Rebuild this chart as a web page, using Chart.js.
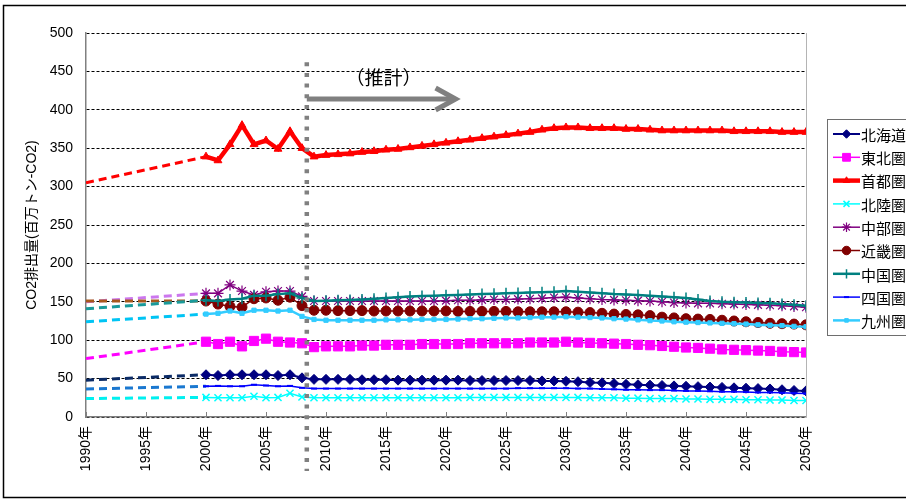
<!DOCTYPE html>
<html>
<head>
<meta charset="utf-8">
<script src="https://cdn.jsdelivr.net/npm/chart.js@4"></script>
<style>
  html, body { margin: 0; padding: 0; background: #fff; }
  #wrap { width: 906px; height: 501px; }
</style>
</head>
<body>
<div id="wrap"><canvas id="chart" width="906" height="501"></canvas></div>
<script>
const years = [1990,
  2000, 2001, 2002, 2003, 2004, 2005, 2006, 2007, 2008, 2009,
  2010, 2011, 2012, 2013, 2014, 2015, 2016, 2017, 2018, 2019,
  2020, 2021, 2022, 2023, 2024, 2025, 2026, 2027, 2028, 2029,
  2030, 2031, 2032, 2033, 2034, 2035, 2036, 2037, 2038, 2039,
  2040, 2041, 2042, 2043, 2044, 2045, 2046, 2047, 2048, 2049,
  2050];

const names = ['北海道', '東北圏', '首都圏', '北陸圏', '中部圏', '近畿圏', '中国圏', '四国圏', '九州圏'];

const hokkaido = [48,
  55, 54, 55, 55, 55, 55, 54, 55, 51, 49,
  49, 49, 49, 48.5, 48.5, 48.5, 48, 48, 48, 48,
  48, 48, 47.5, 47.5, 47.5, 47.5, 47.5, 47.5, 47, 47,
  46.5, 46, 45, 44.5, 43.5, 42.5, 42, 41.5, 41, 40.5,
  40, 39.5, 39, 38.5, 38, 37.5, 37, 36.5, 35.5, 34.5,
  34];
const tohoku = [76,
  98, 95, 98, 92, 99, 102, 98, 97, 96, 91,
  92, 92, 92, 93, 93, 94, 94, 94, 95, 95,
  95, 95, 96, 96, 96, 96, 96, 97, 97, 97,
  98, 97, 96.5, 96, 95.5, 95, 94, 93.5, 92.5, 91.5,
  90.5, 90, 89, 88, 87.5, 87, 86.5, 86, 85, 84.5,
  84];
const shuto = [305,
  339, 334, 355, 380, 355, 360, 349, 372, 350, 339,
  341, 342, 343, 345, 346, 348, 349, 351, 353, 355,
  357, 359, 361, 363, 365, 367, 369, 371, 374, 376,
  377, 377, 376, 376, 376, 375, 375, 374, 373, 373,
  373, 373, 373, 373, 372, 372, 372, 372, 371, 371,
  371];
const hokuriku = [24,
  25.5, 25, 25, 25, 27, 25, 25.5, 31, 26, 25,
  25, 25, 25, 25, 25, 25, 25, 25, 25, 25,
  25, 25, 25.5, 25.5, 25.5, 25.5, 25.5, 25.5, 25.5, 25.5,
  25.5, 25.5, 25, 25, 25, 24.5, 24.5, 24, 24, 24,
  23.5, 23.5, 23, 23, 23, 22.5, 22.5, 22, 22, 21.5,
  21.5];
const chubu = [150,
  161, 161, 172, 164, 159, 163, 164, 164, 157, 151,
  151, 151, 151, 151, 151, 151, 151, 151, 151, 151,
  151.5, 152, 152, 152.5, 153, 153, 153.5, 154, 154.5, 155.5,
  156, 155, 154, 153, 152.5, 152, 151.5, 151, 150, 149,
  148.5, 148, 148, 147.5, 147, 146.5, 146, 145.5, 145, 144,
  143];
const kinki = [151,
  151, 147, 144, 143, 154, 155, 152, 156, 145, 139,
  139, 138.5, 138.5, 138.5, 138, 138, 138, 138, 138, 138,
  138, 137.5, 137.5, 137.5, 137.5, 137.5, 137, 137, 137, 137,
  137, 136.5, 136, 135, 134, 133.5, 133, 132, 130, 129,
  128, 127.5, 127, 126, 125, 124, 123, 122, 121.5, 121,
  120];
const chugoku = [141,
  152, 151, 153, 154, 158, 158, 160, 161, 155, 151,
  151.5, 152, 152.5, 153, 154, 155, 156, 157, 157.5, 158,
  158.5, 159, 159.5, 160, 160.5, 161, 161.5, 162, 162.5, 163,
  164, 163, 162, 161, 160, 159.5, 159, 158, 157, 156,
  155, 153, 151, 150, 149.5, 149, 148.5, 148, 147, 146,
  145];
const shikoku = [36.5,
  40, 40.5, 40, 40, 42, 41, 40, 40.5, 38, 37,
  37, 37, 37, 37, 37, 37, 37, 37, 37, 37,
  37, 37, 37, 37, 37, 37, 37.5, 37.5, 37.5, 37.5,
  37.5, 37, 37, 36.5, 36, 35.5, 35.5, 35, 35, 34.5,
  34, 34, 33.5, 33, 33, 32.5, 32, 32, 31.5, 31,
  30.5];
const kyushu = [124,
  134, 135, 138, 135, 139, 139, 138, 139, 131, 127,
  126, 126, 126, 126, 126, 126.5, 126.5, 126.5, 127, 127,
  127, 127.5, 128, 128, 128.5, 129, 129, 129.5, 130, 130,
  130.5, 130, 129.5, 129, 128, 127.5, 126.5, 125.5, 125, 124,
  123.5, 123, 122.5, 122, 121.5, 121, 120, 119.5, 119, 118,
  117.5];

const seriesValues = [hokkaido, tohoku, shuto, hokuriku, chubu, kinki, chugoku, shikoku, kyushu];

// styles
const lineColors = ['#000080', '#FF00FF', '#FF0000', '#00FFFF', '#800080', '#800000', '#008080', '#0000FF', '#33CCFF'];
const dashColors = ['#0B2B66', '#FF00FF', '#FF0000', '#00F0F0', '#CC77EE', '#A8581C', '#1A9A9A', '#1A78D0', '#00C4F4'];
const markers = ['rectRot', 'rect', 'triangle', 'crossRot', 'star', 'circle', 'cross', 'line', 'rect'];
const markerSizes = [5, 6.5, 4.5, 5, 5.5, 5, 5.5, 3, 3];
const markerLines = [1, 1, 1, 1.5, 1.2, 1, 1.5, 2, 1];
const lineWidths = [2, 1.5, 4.5, 1.5, 1.5, 1.5, 2.5, 1.5, 2.5];

// annotation: 推計 区切り
const estimateStart = 2008.4;
const dividerTop = 462;
const arrowLevel = 414;
const arrowEnd = 2020.8;
const noteYear = 2014.8;
const noteLevel = 442;

const FONT = '"Liberation Sans", "Noto Sans CJK JP", sans-serif';
const CJK = '"Noto Sans CJK JP", sans-serif';

const decor = {
  id: 'decor',
  afterDraw(chart) {
    const { ctx, chartArea: a, scales: { x, y } } = chart;
    ctx.save();

    // 目盛り (内向き)
    ctx.strokeStyle = '#808080';
    ctx.lineWidth = 1;
    x.ticks.forEach(t => {
      const px = Math.round(x.getPixelForValue(t.value)) + 0.5;
      ctx.beginPath();
      ctx.moveTo(px, a.bottom);
      ctx.lineTo(px, a.bottom - 5);
      ctx.stroke();
    });

    // 右の枠線
    ctx.strokeStyle = '#b4b4b4';
    ctx.beginPath();
    ctx.moveTo(Math.round(a.right) + 0.5, a.top);
    ctx.lineTo(Math.round(a.right) + 0.5, a.bottom);
    ctx.stroke();

    // 推計の区切り線
    const dx = x.getPixelForValue(estimateStart);
    ctx.strokeStyle = '#808080';
    ctx.lineWidth = 4.5;
    ctx.setLineDash([4, 6.7]);
    ctx.beginPath();
    ctx.moveTo(dx, y.getPixelForValue(dividerTop));
    ctx.lineTo(dx, a.bottom + 54);
    ctx.stroke();
    ctx.setLineDash([]);

    // 矢印
    const ay = y.getPixelForValue(arrowLevel);
    const ax = x.getPixelForValue(arrowEnd);
    ctx.lineWidth = 5;
    ctx.beginPath();
    ctx.moveTo(dx, ay);
    ctx.lineTo(ax - 3, ay);
    ctx.stroke();
    ctx.lineJoin = 'miter';
    ctx.beginPath();
    ctx.moveTo(ax - 20, ay - 11);
    ctx.lineTo(ax, ay);
    ctx.lineTo(ax - 20, ay + 11);
    ctx.stroke();

    ctx.fillStyle = '#000';
    ctx.font = '19px ' + CJK;
    ctx.textAlign = 'center';
    ctx.textBaseline = 'middle';
    ctx.fillText('（推計）', x.getPixelForValue(noteYear), y.getPixelForValue(noteLevel));

    // 凡例
    ctx.strokeStyle = '#6e6e6e';
    ctx.lineWidth = 1;
    ctx.strokeRect(827.5, 119.5, 120, 216);
    chart.data.datasets.forEach((ds, i) => {
      const cy = 134 + i * 23.3;
      ctx.strokeStyle = ds.borderColor;
      ctx.lineWidth = ds.borderWidth;
      ctx.beginPath();
      ctx.moveTo(833, cy);
      ctx.lineTo(860, cy);
      ctx.stroke();
      ctx.fillStyle = ds.pointBackgroundColor;
      ctx.strokeStyle = ds.pointBorderColor;
      ctx.lineWidth = markerLines[i];
      if (Chart.helpers && Chart.helpers.drawPoint) {
        Chart.helpers.drawPoint(ctx, {
          pointStyle: markers[i], radius: markerSizes[i] * 0.85, borderWidth: markerLines[i], rotation: 0
        }, 846.5, cy);
      }
      ctx.fillStyle = '#000';
      ctx.font = '15px ' + CJK;
      ctx.textAlign = 'left';
      ctx.textBaseline = 'middle';
      ctx.fillText(ds.label, 861, cy + 1);
    });

    // 外枠
    ctx.strokeStyle = '#000';
    ctx.lineWidth = 1.5;
    ctx.strokeRect(3.5, 5.5, 940, 492);
    ctx.restore();
  }
};

new Chart(document.getElementById('chart'), {
  type: 'line',
  data: {
    datasets: names.map((name, i) => ({
      label: name,
      data: years.map((yr, j) => ({ x: yr, y: seriesValues[i][j] })),
      borderColor: lineColors[i],
      backgroundColor: lineColors[i],
      borderWidth: lineWidths[i],
      pointStyle: markers[i],
      pointRadius: c => c.dataIndex === 0 ? 0 : markerSizes[i],
      pointHoverRadius: c => c.dataIndex === 0 ? 0 : markerSizes[i],
      pointBorderWidth: markerLines[i],
      pointBackgroundColor: lineColors[i],
      pointBorderColor: lineColors[i],
      tension: 0,
      order: names.length - i,
      segment: {
        borderDash: c => c.p0DataIndex === 0 ? [8, 5] : undefined,
        borderColor: c => c.p0DataIndex === 0 ? dashColors[i] : undefined,
        borderWidth: c => c.p0DataIndex === 0 ? 3 : undefined
      }
    }))
  },
  options: {
    responsive: false,
    animation: false,
    devicePixelRatio: 1,
    layout: { padding: { top: 33, right: 100, bottom: 0, left: 0 } },
    plugins: {
      legend: { display: false },
      tooltip: { enabled: false }
    },
    scales: {
      x: {
        type: 'linear',
        min: 1990,
        max: 2050,
        afterFit: s => { s.height = 84; },
        grid: { display: false, drawTicks: false },
        border: { display: true, color: '#808080', width: 1.5 },
        ticks: {
          stepSize: 5,
          autoSkip: false,
          minRotation: 90,
          maxRotation: 90,
          padding: 9,
          color: '#000',
          font: { family: FONT, size: 14 },
          callback: v => v + '年'
        }
      },
      y: {
        min: 0,
        max: 500,
        afterFit: s => { s.width = 86; },
        grid: { color: '#000', lineWidth: 1, drawTicks: false },
        border: { display: true, color: '#808080', width: 1.5, dash: [3, 2] },
        ticks: {
          stepSize: 50,
          padding: 13,
          color: '#000',
          font: { family: FONT, size: 14 }
        },
        title: {
          display: true,
          text: 'CO2排出量(百万トン-CO2)',
          color: '#000',
          font: { family: FONT, size: 14 },
          padding: { top: 24, bottom: 0 }
        }
      }
    }
  },
  plugins: [decor]
});
</script>
</body>
</html>
